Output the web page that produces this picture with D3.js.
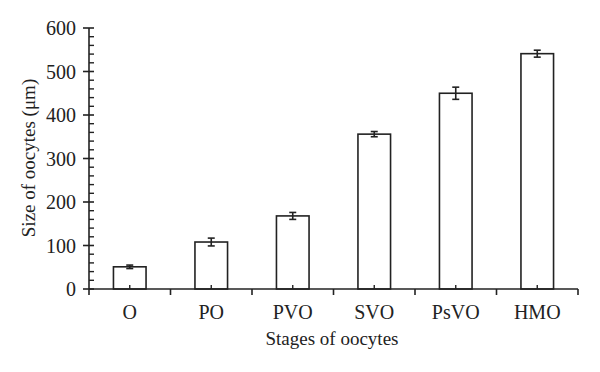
<!DOCTYPE html>
<html>
<head>
<meta charset="utf-8">
<script src="https://cdn.jsdelivr.net/npm/d3@7"></script>
<style>
  body { margin: 0; background: #fff; }
  text { font-family: "Liberation Serif", "DejaVu Serif", serif; fill: #222; }
</style>
</head>
<body>
<svg id="chart" width="600" height="372"></svg>
<script>
// data
const stages = ["O", "PO", "PVO", "SVO", "PsVO", "HMO"];
const sizes = [51, 108, 168, 356, 450, 541];
const errors = [4, 9, 8, 6, 14, 8];
const yTicks = [0, 100, 200, 300, 400, 500, 600];

const svg = d3.select("#chart");
const ink = "#222";

// scales
let x = d3.scaleBand().domain(stages).range([89, 578]);
let y = d3.scaleLinear().domain([0, 600]).range([289, 28]);
const barW = x.bandwidth() * 0.4;

// y axis: major ticks cross the line, minor ticks point inward
let yAxis = svg.append("g").attr("transform", "translate(89,0)");
yAxis.append("line")
  .attr("y1", y(0)).attr("y2", y(600))
  .attr("stroke", ink).attr("stroke-width", 1.6);
yAxis.selectAll("line.minor")
  .data(d3.range(20, 600, 20).filter(v => v % 100 !== 0))
  .join("line")
    .attr("class", "minor")
    .attr("x1", 0).attr("x2", 5)
    .attr("y1", d => y(d)).attr("y2", d => y(d))
    .attr("stroke", ink).attr("stroke-width", 1.4);
yAxis.selectAll("line.major")
  .data(yTicks)
  .join("line")
    .attr("class", "major")
    .attr("x1", -6).attr("x2", 5)
    .attr("y1", d => y(d)).attr("y2", d => y(d))
    .attr("stroke", ink).attr("stroke-width", 1.6);
yAxis.selectAll("text")
  .data(yTicks)
  .join("text")
    .attr("x", -13)
    .attr("y", d => y(d))
    .attr("dy", "0.35em")
    .style("text-anchor", "end")
    .style("font-size", "20px")
    .text(d => d);

// bars
svg.selectAll("rect.bar")
  .data(stages)
  .join("rect")
    .attr("class", "bar")
    .attr("x", (d, i) => x(d) + (x.bandwidth() - barW) / 2)
    .attr("y", (d, i) => y(sizes[i]))
    .attr("width", barW)
    .attr("height", (d, i) => y(0) - y(sizes[i]))
    .attr("fill", "#fff")
    .attr("stroke", ink)
    .attr("stroke-width", 1.6);

// error bars
let err = svg.append("g");
stages.forEach((s, i) => {
  let cx = x(s) + x.bandwidth() / 2;
  let hi = y(sizes[i] + errors[i]), lo = y(sizes[i] - errors[i]);
  err.append("line").attr("x1", cx).attr("x2", cx).attr("y1", hi).attr("y2", lo)
    .attr("stroke", ink).attr("stroke-width", 1.6);
  [hi, lo].forEach(v => {
    err.append("line").attr("x1", cx - 3.5).attr("x2", cx + 3.5).attr("y1", v).attr("y2", v)
      .attr("stroke", ink).attr("stroke-width", 1.6);
  });
});

// x axis
let xAxis = svg.append("g").attr("transform", "translate(0,289)");
xAxis.append("line")
  .attr("x1", 89).attr("x2", 578)
  .attr("stroke", ink).attr("stroke-width", 1.6);
// boundary ticks point down
xAxis.selectAll("line.edge")
  .data(stages.map(s => x(s)).concat([x.range()[1]]))
  .join("line")
    .attr("class", "edge")
    .attr("x1", d => d).attr("x2", d => d)
    .attr("y1", 0).attr("y2", 6)
    .attr("stroke", ink).attr("stroke-width", 1.6);
// centre ticks point up
xAxis.selectAll("line.mid")
  .data(stages)
  .join("line")
    .attr("class", "mid")
    .attr("x1", d => x(d) + x.bandwidth() / 2).attr("x2", d => x(d) + x.bandwidth() / 2)
    .attr("y1", 0).attr("y2", -4)
    .attr("stroke", ink).attr("stroke-width", 1.4);
xAxis.selectAll("text")
  .data(stages)
  .join("text")
    .attr("x", d => x(d) + x.bandwidth() / 2)
    .attr("y", 30)
    .style("text-anchor", "middle")
    .style("font-size", "20px")
    .text(d => d);

// axis titles
svg.append("text")
  .attr("x", 332).attr("y", 345)
  .style("text-anchor", "middle")
  .style("font-size", "19px")
  .text("Stages of oocytes");

svg.append("text")
  .attr("transform", "rotate(-90)")
  .attr("x", -158).attr("y", 35)
  .style("text-anchor", "middle")
  .style("font-size", "19px")
  .text("Size of oocytes (μm)");
</script>
</body>
</html>
